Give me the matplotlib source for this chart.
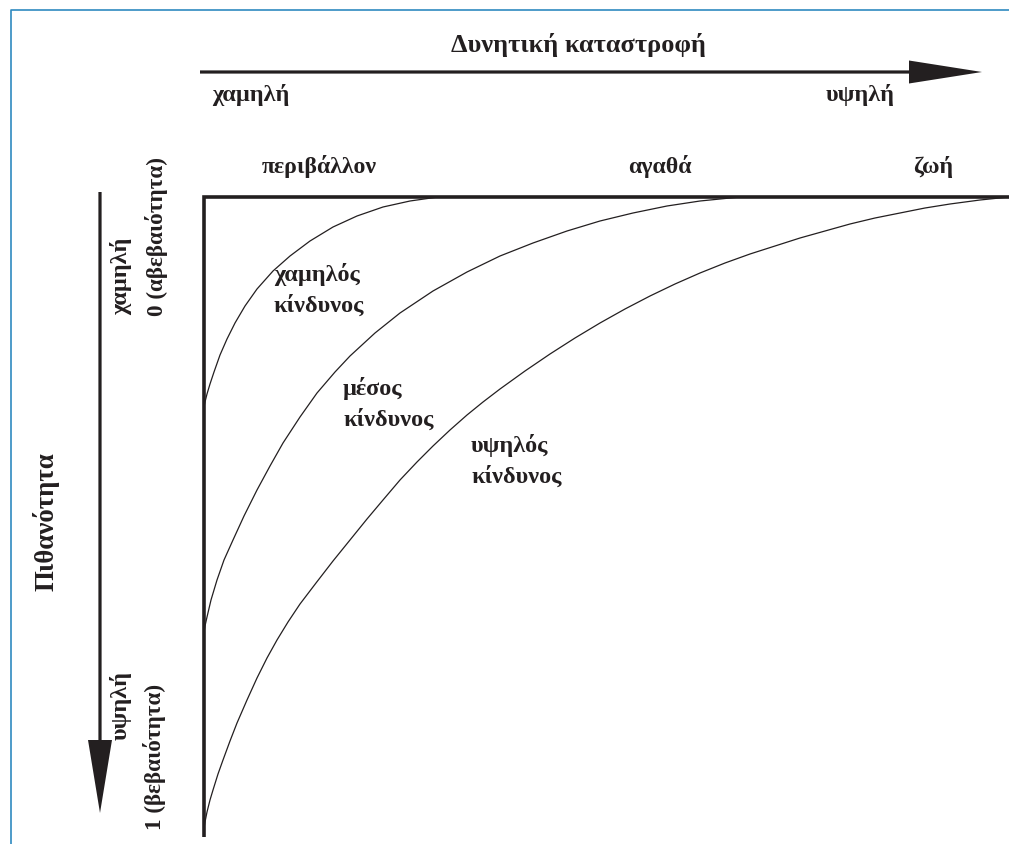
import matplotlib
matplotlib.use("Agg")
import matplotlib.pyplot as plt
import matplotlib.patches as mpatches

plt.rcParams["font.family"] = ["Liberation Serif", "DejaVu Serif"]

# ── Κείμενα ───────────────────────────────────────────────────
title_x = "Δυνητική καταστροφή"
title_y = "Πιθανότητα"
x_ends = ["χαμηλή", "υψηλή"]
y_ends = ["χαμηλή", "υψηλή"]
y_scale = ["0 (αβεβαιότητα)", "1 (βεβαιότητα)"]
categories = ["περιβάλλον", "αγαθά", "ζωή"]
zones = ["χαμηλός\nκίνδυνος", "μέσος\nκίνδυνος", "υψηλός\nκίνδυνος"]

# ── Καμπύλες ίσου κινδύνου (συντεταγμένες εικόνας, px) ────────
low_x = [204, 205, 207, 210, 214, 220, 227, 235, 245, 257, 273, 290, 310,
         333, 357, 383, 410, 438]
low_y = [407, 402, 394, 384, 372, 355, 339, 323, 306, 289, 271, 256, 241,
         227, 216, 207, 201, 197]

mid_x = [204, 205, 207, 211, 217, 224, 233, 244, 257, 270, 283, 300, 317,
         335, 350, 375, 400, 433, 467, 500, 533, 567, 600, 633, 667, 700, 740]
mid_y = [632, 626, 617, 600, 580, 560, 540, 516, 490, 466, 443, 417, 393,
         372, 356, 333, 313, 291, 272, 256, 243, 231, 221, 213, 206, 201, 197]

high_x = [204, 205, 207, 210, 213, 218, 223, 230, 237, 247, 257, 267, 277,
          288, 300, 316, 333, 350, 367, 383, 400, 417, 433, 450, 467, 483,
          500, 525, 550, 575, 600, 625, 650, 675, 700, 725, 750, 775, 800,
          825, 850, 875, 900, 925, 950, 980, 1009]
high_y = [828, 822, 812, 800, 790, 774, 760, 741, 723, 700, 678, 658, 640,
          622, 604, 583, 561, 540, 519, 500, 480, 462, 446, 430, 415, 402,
          389, 371, 354, 338, 323, 309, 296, 284, 273, 263, 254, 246, 238,
          231, 224, 218, 213, 208, 204, 200, 197]

W, H = 1009, 844
fig = plt.figure(figsize=(W / 100, H / 100), dpi=100)
ax = fig.add_axes([0, 0, 1, 1])
ax.set_xlim(0, W)
ax.set_ylim(H, 0)
ax.axis("off")

ink = "#231f20"

# πλαίσιο σελίδας
ax.plot([11, 11, W], [H, 10, 10], color="#2f8ac0", lw=1.2, solid_capstyle="butt")

# βέλος οριζόντιο
ax.add_patch(mpatches.FancyArrow(200, 72, 782, 0, width=3.2, head_width=23,
                                 head_length=73, length_includes_head=True,
                                 color=ink, lw=0))
# βέλος κατακόρυφο
ax.add_patch(mpatches.FancyArrow(100, 192, 0, 621, width=3.2, head_width=24,
                                 head_length=73, length_includes_head=True,
                                 color=ink, lw=0))

# άξονες του διαγράμματος
ax.plot([204, 204, W], [837, 197, 197], color=ink, lw=2.6,
        solid_joinstyle="miter", solid_capstyle="butt")

for xs, ys in [(low_x, low_y), (mid_x, mid_y), (high_x, high_y)]:
    ax.plot(xs, ys, color=ink, lw=0.9, solid_joinstyle="round")

bold = dict(fontweight="bold", color=ink)

ax.text(578, 45, title_x, fontsize=19, ha="center", va="center", **bold)
ax.text(212, 95, x_ends[0], fontsize=17.5, ha="left", va="center", **bold)
ax.text(895, 95, x_ends[1], fontsize=17.5, ha="right", va="center", **bold)

for cx, lab in zip([319, 660, 933], categories):
    ax.text(cx, 167, lab, fontsize=17.2, ha="center", va="center", **bold)

for (tx, ty), lab in zip([(274, 290), (343, 404), (471, 461)], zones):
    ax.text(tx, ty, lab, fontsize=17.5, ha="left", va="center",
            linespacing=1.5, **bold)

ax.text(46, 522, title_y, fontsize=19.4, rotation=90, ha="center", va="center", **bold)
ax.text(121, 276, y_ends[0], fontsize=17.5, rotation=90, ha="center", va="center", **bold)
ax.text(121, 706, y_ends[1], fontsize=17.5, rotation=90, ha="center", va="center", **bold)
ax.text(157, 236, y_scale[0], fontsize=16.7, rotation=90, ha="center", va="center", **bold)
ax.text(154, 757, y_scale[1], fontsize=16.7, rotation=90, ha="center", va="center", **bold)

fig.savefig("out.png", dpi=100)
